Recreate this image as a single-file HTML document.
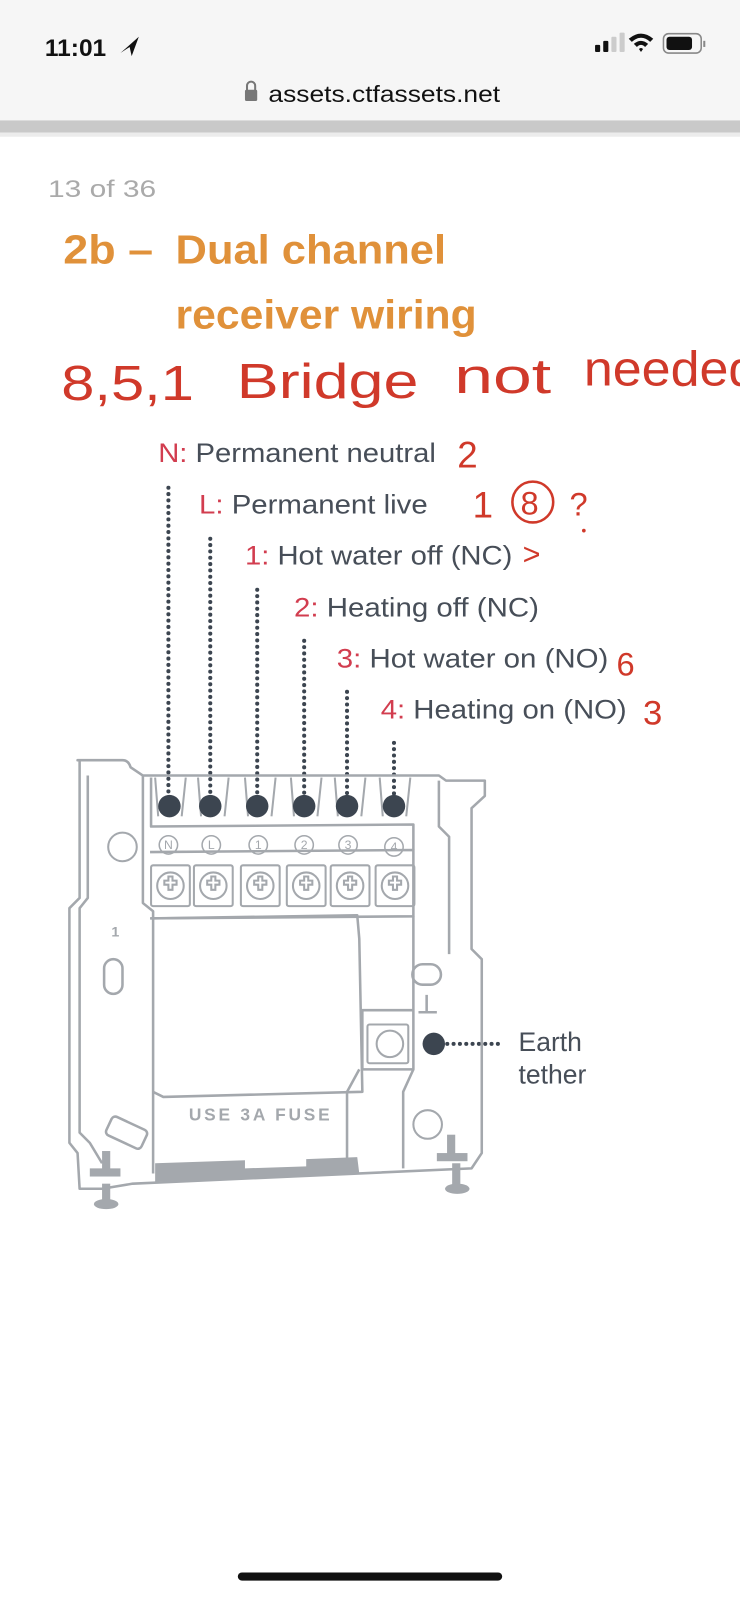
<!DOCTYPE html>
<html><head><meta charset="utf-8"><style>
html,body{margin:0;padding:0;background:#fff;width:740px;height:1600px;overflow:hidden}
svg{display:block}
</style></head><body>
<svg width="740" height="1600" viewBox="0 0 725 1568" preserveAspectRatio="none" xmlns="http://www.w3.org/2000/svg" font-family="Liberation Sans, DejaVu Sans, sans-serif">
<rect x="0" y="0" width="725" height="118" fill="#f6f6f6"/>
<rect x="0" y="118" width="725" height="12" fill="#c9c9c9"/>
<rect x="0" y="130" width="725" height="4" fill="#ececec"/>
<text x="44" y="55" font-size="24" font-weight="bold" fill="#111">11:01</text>
<path d="M118 52 L136 36 L129 55 L127 46 Z" fill="#111"/>
<rect x="583" y="44" width="5" height="7" rx="1" fill="#111"/><rect x="591" y="40" width="5" height="11" rx="1" fill="#111"/>
<rect x="599" y="36" width="5" height="15" rx="1" fill="#ccc"/><rect x="607" y="32" width="5" height="19" rx="1" fill="#ccc"/>
<path d="M616 38 Q628 28 640 38 L637 41 Q628 33 619 41 Z M621 43 Q628 37 635 43 L632 46 Q628 42 624 46Z M626 48 L628 51 L630 48 Q628 46 626 48Z" fill="#111"/>
<rect x="650" y="33" width="37" height="19" rx="5" fill="none" stroke="#888" stroke-width="1.5"/>
<rect x="653" y="36" width="25" height="13" rx="3" fill="#111"/>
<rect x="689" y="40" width="2" height="6" fill="#888"/>
<rect x="240" y="88" width="12" height="11" rx="1.5" fill="#777"/>
<path d="M242 89 V84 a4 4 0 0 1 8 0 V89" fill="none" stroke="#777" stroke-width="2"/>
<text x="263" y="100" font-size="23" fill="#111" textLength="227" lengthAdjust="spacingAndGlyphs">assets.ctfassets.net</text>
<text x="47" y="193" font-size="24" fill="#aaa" textLength="106" lengthAdjust="spacingAndGlyphs">13 of 36</text>
<g fill="#e0913a" font-size="40" font-weight="bold">
<text x="62" y="258" textLength="88" lengthAdjust="spacingAndGlyphs">2b –</text>
<text x="172" y="258" textLength="265" lengthAdjust="spacingAndGlyphs">Dual channel</text>
<text x="172" y="322" textLength="295" lengthAdjust="spacingAndGlyphs">receiver wiring</text></g>
<g fill="#d0392a" font-size="48" font-family="Liberation Sans, sans-serif">
<text x="60" y="392" textLength="130" lengthAdjust="spacingAndGlyphs">8,5,1</text>
<text x="232" y="390" textLength="178" lengthAdjust="spacingAndGlyphs">Bridge</text>
<text x="445" y="385" textLength="95" lengthAdjust="spacingAndGlyphs">not</text>
<text x="572" y="378" textLength="170" lengthAdjust="spacingAndGlyphs">needed</text>
<text x="448" y="458" font-size="36">2</text><text x="463" y="507" font-size="36">1</text>
<text x="510" y="504" font-size="32">8</text><text x="558" y="505" font-size="32">?</text>
<text x="512" y="553" font-size="30">&gt;</text><text x="604" y="662" font-size="32">6</text><text x="630" y="710" font-size="34">3</text>
</g>
<circle cx="522" cy="492" r="20" fill="none" stroke="#d0392a" stroke-width="2.5"/>
<circle cx="572" cy="520" r="1.8" fill="#d0392a"/>
<g font-size="26" fill="#474e58" lengthAdjust="spacingAndGlyphs">
<text x="155" y="453" textLength="272" lengthAdjust="spacingAndGlyphs"><tspan fill="#d23d4f">N:</tspan> Permanent neutral</text>
<text x="195" y="503" textLength="224" lengthAdjust="spacingAndGlyphs"><tspan fill="#d23d4f">L:</tspan> Permanent live</text>
<text x="240" y="553" textLength="262" lengthAdjust="spacingAndGlyphs"><tspan fill="#d23d4f">1:</tspan> Hot water off (NC)</text>
<text x="288" y="604" textLength="240" lengthAdjust="spacingAndGlyphs"><tspan fill="#d23d4f">2:</tspan> Heating off (NC)</text>
<text x="330" y="654" textLength="266" lengthAdjust="spacingAndGlyphs"><tspan fill="#d23d4f">3:</tspan> Hot water on (NO)</text>
<text x="373" y="704" textLength="241" lengthAdjust="spacingAndGlyphs"><tspan fill="#d23d4f">4:</tspan> Heating on (NO)</text>
</g>
<g stroke="#3c4550" stroke-width="4" stroke-linecap="round" stroke-dasharray="0 6.2">
<line x1="165" y1="478" x2="165" y2="780"/><line x1="206" y1="528" x2="206" y2="780"/>
<line x1="252" y1="578" x2="252" y2="780"/><line x1="298" y1="628" x2="298" y2="780"/>
<line x1="340" y1="678" x2="340" y2="780"/><line x1="386" y1="728" x2="386" y2="780"/>
<line x1="432" y1="1023" x2="492" y2="1023"/>
</g>
<g fill="none" stroke="#a4a8ad" stroke-width="2.5" stroke-linejoin="round">
<path d="M76 745 L120 745 Q126 745 128 752 L140 760 L430 760 L437 765 L475 765 L475 780 L462 792 L462 930 L472 940 L472 1130 L462 1145 L130 1160 L100 1165 L78 1165 L76 1130 L68 1120 L68 890 L78 880 L78 745 Z"/>
<path d="M86 760 L86 880 L78 890 L78 1110 L88 1120 L100 1140"/>
<path d="M140 760 L140 885 L150 893 L150 1150"/>
<path d="M148 900 L350 897 L352 920 L355 1070 L160 1075 L150 1070"/>
<path d="M147 835 L405 833 L405 898 L147 900"/>
<path d="M405 898 L405 990 L355 990 L355 1048 L405 1048 L405 990"/>
<path d="M352 1048 L340 1070 L340 1150"/>
<path d="M405 1048 L395 1070 L395 1145"/>
<path d="M430 765 L430 810 L440 820 L440 935"/>
<path d="M148 762 L148 810 L405 808 L405 833"/>
<rect x="404" y="945" width="28" height="20" rx="10"/>
<rect x="102" y="940" width="18" height="34" rx="9"/>
<rect x="105" y="1100" width="38" height="20" rx="4" transform="rotate(25 124 1110)"/>
<path d="M418 975 V992 M410 992 H428"/>
</g>
<g fill="none" stroke="#a4a8ad" stroke-width="2">
<g id="t">
<rect x="148" y="848" width="38" height="40" rx="2"/><circle cx="167" cy="868" r="13"/>
<path d="M161 863 h4 v-4 h4 v4 h4 v4 h-4 v5 h-4 v-5 h-4z"/>
<path d="M152 762 L155 800 M182 762 L178 800"/>
</g>
<use href="#t" x="42"/><use href="#t" x="88"/><use href="#t" x="133"/><use href="#t" x="176"/><use href="#t" x="220"/>
<rect x="360" y="1004" width="40" height="38" rx="2"/><circle cx="382" cy="1023" r="13"/>
<circle cx="120" cy="830" r="14"/><circle cx="419" cy="1102" r="14"/>
</g>
<g fill="#a4a8ad">
<path d="M152 1140 L240 1137 L240 1145 L300 1143 L300 1136 L350 1134 L352 1150 L152 1158Z"/>
<rect x="100" y="1128" width="8" height="20"/><rect x="88" y="1145" width="30" height="8"/><rect x="100" y="1160" width="8" height="20"/>
<rect x="438" y="1112" width="8" height="20"/><rect x="428" y="1130" width="30" height="8"/><rect x="443" y="1140" width="8" height="25"/>
<ellipse cx="448" cy="1165" rx="12" ry="5"/><ellipse cx="104" cy="1180" rx="12" ry="5"/>
</g>
<g font-size="12" fill="#a4a8ad" text-anchor="middle">
<circle cx="165" cy="828" r="9" fill="none" stroke="#a4a8ad" stroke-width="1.5"/><text x="165" y="832">N</text>
<circle cx="207" cy="828" r="9" fill="none" stroke="#a4a8ad" stroke-width="1.5"/><text x="207" y="832">L</text>
<circle cx="253" cy="828" r="9" fill="none" stroke="#a4a8ad" stroke-width="1.5"/><text x="253" y="832">1</text>
<circle cx="298" cy="828" r="9" fill="none" stroke="#a4a8ad" stroke-width="1.5"/><text x="298" y="832">2</text>
<circle cx="341" cy="828" r="9" fill="none" stroke="#a4a8ad" stroke-width="1.5"/><text x="341" y="832">3</text>
<circle cx="386" cy="830" r="9" fill="none" stroke="#a4a8ad" stroke-width="1.5"/><text x="386" y="834">4</text>
<text x="113" y="918" font-size="14" font-weight="bold">1</text>
</g>
<text x="185" y="1098" font-size="17" font-weight="bold" fill="#a4a8ad" textLength="138" lengthAdjust="spacing">USE   3A   FUSE</text>
<g fill="#3c4550">
<circle cx="166" cy="790" r="11"/><circle cx="206" cy="790" r="11"/><circle cx="252" cy="790" r="11"/>
<circle cx="298" cy="790" r="11"/><circle cx="340" cy="790" r="11"/><circle cx="386" cy="790" r="11"/>
<circle cx="425" cy="1023" r="11"/>
</g>
<text x="508" y="1030" font-size="26" fill="#474e58">Earth</text>
<text x="508" y="1062" font-size="26" fill="#474e58">tether</text>
<rect x="233" y="1541" width="259" height="8" rx="4" fill="#111"/>
</svg>
</body></html>
